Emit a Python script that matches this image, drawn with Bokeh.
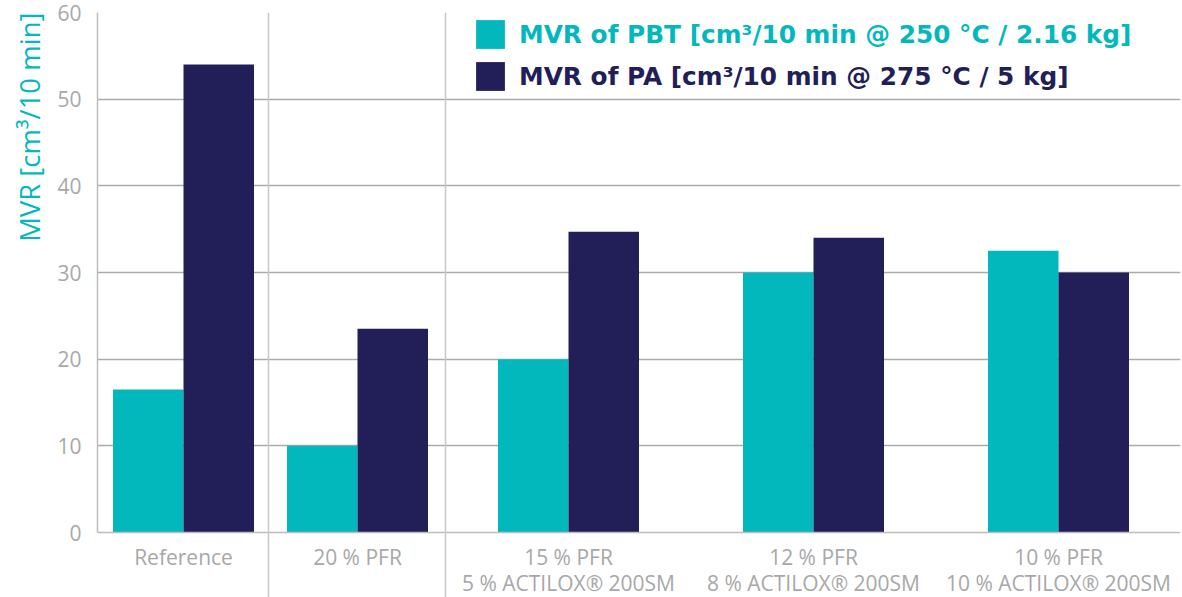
from bokeh.plotting import figure
from bokeh.models import (Range1d, FixedTicker, Span, Legend, LegendItem, Title,
                          ColumnDataSource)
from bokeh.transform import dodge
from bokeh.embed import file_html
from bokeh.resources import INLINE

# ---------------- data ----------------
categories = ["Reference", "20 % PFR", "15 % PFR\n5 % ACTILOX® 200SM",
              "12 % PFR\n8 % ACTILOX® 200SM", "10 % PFR\n10 % ACTILOX® 200SM"]
mvr_pbt = [16.5, 10.0, 20.0, 30.0, 32.5]
mvr_pa = [54.0, 23.5, 34.7, 34.0, 30.0]
y_ticks = [0, 10, 20, 30, 40, 50, 60]
series_labels = ["MVR of PBT [cm³/10 min @ 250 °C / 2.16 kg]",
                 "MVR of PA [cm³/10 min @ 275 °C / 5 kg]"]
y_title = "MVR [cm³/10 min]"

# ---------------- layout (positions in x units) ----------------
panel_edges = [0, 171, 348, 1083]
centers = [86, 260, 471, 716, 961]
separators = panel_edges[1:3]
bar_w = 70.5
y_floor = -7.5   # room below zero for the category labels

TEAL = "#03b8bd"
NAVY = "#221e57"
GREY_TXT = "#a8a8a8"
FONT = "Open Sans"

src = ColumnDataSource(dict(x=centers, pbt=mvr_pbt, pa=mvr_pa))

p = figure(width=1182, height=597, output_backend="svg", toolbar_location=None,
           x_range=Range1d(panel_edges[0], panel_edges[-1]),
           y_range=Range1d(y_floor, y_ticks[-1]),
           min_border_left=97, min_border_right=2, min_border_top=12, min_border_bottom=0)
p.outline_line_color = None
p.background_fill_color = "white"
p.border_fill_color = "white"

# grid
p.xgrid.grid_line_color = None
p.ygrid.ticker = FixedTicker(ticks=y_ticks[1:-1])
p.ygrid.grid_line_color = "#ababab"
p.ygrid.grid_line_width = 1.3

# panel separators (full height, down through the label area)
for s in separators:
    p.add_layout(Span(location=s, dimension="height", line_color="#c8c8c8", line_width=1.5))

r1 = p.vbar(x=dodge("x", -bar_w / 2, range=p.x_range), top="pbt", width=bar_w,
            bottom=0, source=src, fill_color=TEAL, line_color=None)
r2 = p.vbar(x=dodge("x", bar_w / 2, range=p.x_range), top="pa", width=bar_w,
            bottom=0, source=src, fill_color=NAVY, line_color=None)

# y axis
p.yaxis.ticker = FixedTicker(ticks=y_ticks)
p.yaxis.bounds = (y_ticks[0], y_ticks[-1])
p.yaxis.major_tick_line_color = None
p.yaxis.minor_tick_line_color = None
p.yaxis.major_tick_out = 0
p.yaxis.major_label_standoff = 16
p.yaxis.major_label_text_font = FONT
p.yaxis.major_label_text_font_size = "21px"
p.yaxis.major_label_text_color = GREY_TXT
p.yaxis.axis_line_color = "#bdbdbd"
p.yaxis.axis_line_width = 1.5

# x axis fixed at y = 0
p.xaxis.fixed_location = 0
p.xaxis.ticker = FixedTicker(ticks=centers)
p.xaxis.major_label_overrides = {c: lab for c, lab in zip(centers, categories)}
p.xaxis.major_tick_line_color = None
p.xaxis.minor_tick_line_color = None
p.xaxis.major_tick_out = 0
p.xaxis.major_tick_in = 0
p.xaxis.major_label_standoff = 10
p.xaxis.major_label_text_font = FONT
p.xaxis.major_label_text_font_size = "21px"
p.xaxis.major_label_text_line_height = 0.95
p.xaxis.major_label_text_color = GREY_TXT
p.xaxis.axis_line_color = "#bdbdbd"
p.xaxis.axis_line_width = 1.5

# y title on the left, aligned to top
p.add_layout(Title(text=y_title, align="right", vertical_align="top", text_color=TEAL,
                   text_font=FONT, text_font_size="27.5px", text_font_style="normal",
                   standoff=10), "left")

# legends (one per series so each gets its own text colour)
for i, (r, col) in enumerate([(r1, TEAL), (r2, NAVY)]):
    lg = Legend(items=[LegendItem(label=series_labels[i], renderers=[r])],
                location=(375, 545 - 42 * i), padding=0, margin=0, spacing=0,
                glyph_width=36, glyph_height=36, label_standoff=11,
                label_text_font="DejaVu Sans", label_text_font_style="bold",
                label_text_font_size="24.8px", label_text_color=col,
                border_line_color=None, background_fill_alpha=0)
    p.add_layout(lg)

open("out.html", "w").write(file_html(p, INLINE))
